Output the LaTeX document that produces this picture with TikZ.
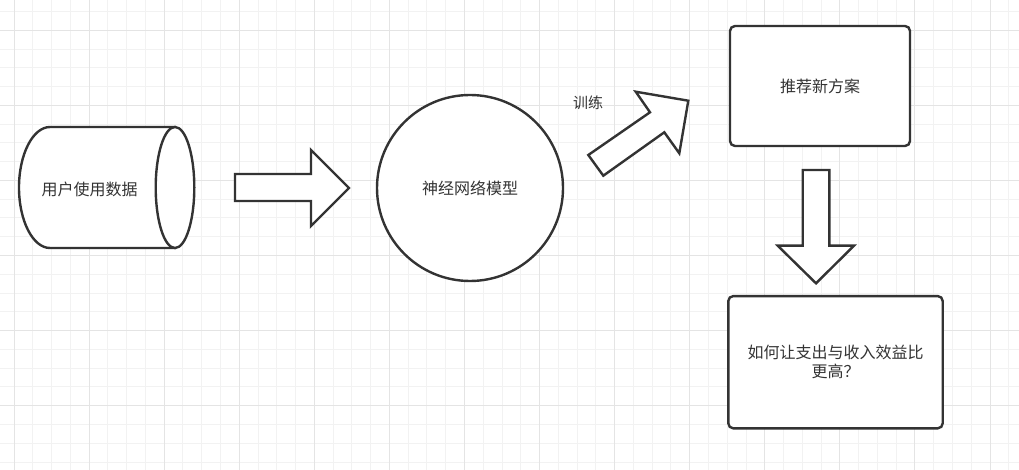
\documentclass[tikz,border=0pt]{standalone}
\usepackage{fontspec}
\setmainfont{Noto Sans CJK SC}
\usetikzlibrary{shapes.geometric}
\definecolor{ink}{HTML}{333333}
\definecolor{gridminor}{HTML}{F2F2F2}
\definecolor{gridmajor}{HTML}{E4E4E4}
\begin{document}
\begin{tikzpicture}[x=1pt,y=-1pt,
  shape line/.style={draw=ink,line width=2.4pt,fill=white},
  blockarrow/.style={shape line,line join=miter},
  label text/.style={text=ink,font=\fontsize{16pt}{19pt}\selectfont,align=center},
  box/.style={shape line,rounded corners=5pt,inner sep=0pt,label text},
  minorline/.style={gridminor,line width=1pt},
  majorline/.style={gridmajor,line width=1pt}]
\useasboundingbox (0,0) rectangle (1019,470);
\fill[white] (0,0) rectangle (1019,470);

% background grid
\begin{scope}
\clip (0,0) rectangle (1019,470);
\foreach \i in {-1,...,54} \draw[minorline] ({14+18.77*\i},0) -- ({14+18.77*\i},470);
\foreach \j in {-2,...,24} \draw[minorline] (0,{30.3+18.77*\j}) -- (1019,{30.3+18.77*\j});
\foreach \i in {0,...,13} \draw[majorline] ({14+75.08*\i},0) -- ({14+75.08*\i},470);
\foreach \j in {0,...,5} \draw[majorline] (0,{30.3+75.08*\j}) -- (1019,{30.3+75.08*\j});
\end{scope}

% data cylinder lying on its side
\filldraw[shape line] (50,127) -- (175,127) -- (175,248) -- (50,248)
  .. controls (33,248) and (19,221) .. (19,187.5)
  .. controls (19,154) and (33,127) .. (50,127) -- cycle;
\filldraw[shape line] (175,187.5) ellipse [x radius=19.3pt, y radius=60.5pt];
\node[label text] (data) at (89.7,189) {用户使用数据};

% block arrow: data -> model
\filldraw[blockarrow] (235,174) -- (311,174) -- (311,150) -- (349,188)
  -- (311,226) -- (311,201) -- (235,201) -- cycle;

% neural network model
\node[shape line,circle,minimum size=186pt,inner sep=0pt,label text] (model) at (470,188) {神经网络模型};

% block arrow: model -> plan (training)
\filldraw[blockarrow] (588.3,155) -- (650,112.3) -- (635.7,91.7) -- (688.3,100.7)
  -- (679.3,153.3) -- (664.3,132.3) -- (603.3,175.7) -- cycle;
\node[label text,font=\fontsize{15pt}{18pt}\selectfont] (train) at (588,103) {训练};

% recommended plan
\node[box,minimum width=180pt,minimum height=120pt] (plan) at (820,86) {推荐新方案};

% block arrow: plan -> question
\filldraw[blockarrow] (802.7,170) -- (829.3,170) -- (829.3,245.7) -- (854,245.7)
  -- (816,283.3) -- (777.7,245.7) -- (802.7,245.7) -- cycle;

% question box
\node[box,minimum width=214.4pt,minimum height=132.3pt] (question) at (835.5,362.2)
  {如何让支出与收入效益比\\更高？};
\end{tikzpicture}
\end{document}
